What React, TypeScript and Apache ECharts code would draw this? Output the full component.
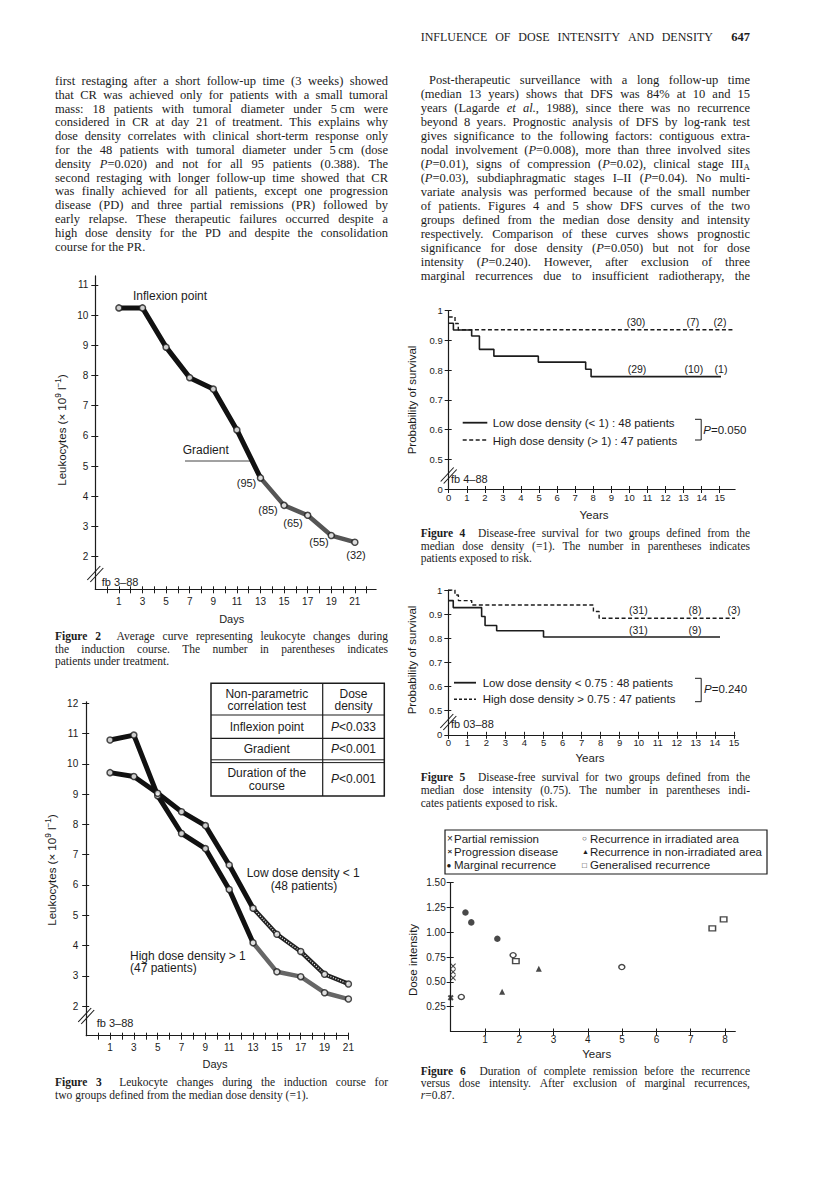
import React, { useEffect, useRef } from "react";
import * as echarts from "echarts";

const INK = "#1c1c1c";
const SANS = '"Liberation Sans", Arial, sans-serif';
const SERIF = '"Liberation Serif", "Times New Roman", serif';

// ---------------- page text ----------------
const runningHead = "INFLUENCE OF DOSE INTENSITY AND DENSITY";
const pageNumber = "647";
const leftColumnLines = [
  "first restaging after a short follow-up time (3 weeks) showed",
  "that CR was achieved only for patients with a small tumoral",
  "mass: 18 patients with tumoral diameter under 5\u2009cm were",
  "considered in CR at day 21 of treatment. This explains why",
  "dose density correlates with clinical short-term response only",
  "for the 48 patients with tumoral diameter under 5\u2009cm (dose",
  "density *P*=0.020) and not for all 95 patients (0.388). The",
  "second restaging with longer follow-up time showed that CR",
  "was finally achieved for all patients, except one progression",
  "disease (PD) and three partial remissions (PR) followed by",
  "early relapse. These therapeutic failures occurred despite a",
  "high dose density for the PD and despite the consolidation",
  "course for the PR.",
];
const rightColumnLines = [
  "Post-therapeutic surveillance with a long follow-up time",
  "(median 13 years) shows that DFS was 84% at 10 and 15",
  "years (Lagarde *et al.*, 1988), since there was no recurrence",
  "beyond 8 years. Prognostic analysis of DFS by log-rank test",
  "gives significance to the following factors: contiguous extra-",
  "nodal involvement (*P*=0.008), more than three involved sites",
  "(*P*=0.01), signs of compression (*P*=0.02), clinical stage III_A_",
  "(*P*=0.03), subdiaphragmatic stages I\u2013II (*P*=0.04). No multi-",
  "variate analysis was performed because of the small number",
  "of patients. Figures 4 and 5 show DFS curves of the two",
  "groups defined from the median dose density and intensity",
  "respectively. Comparison of these curves shows prognostic",
  "significance for dose density (*P*=0.050) but not for dose",
  "intensity (*P*=0.240). However, after exclusion of three",
  "marginal recurrences due to insufficient radiotherapy, the",
];
const fig2Caption = [
  "#Figure# #2#  Average curve representing leukocyte changes during",
  "the induction course. The number in parentheses indicates",
  "patients under treatment.",
];
const fig3Caption = [
  "#Figure# #3#  Leukocyte changes during the induction course for",
  "two groups defined from the median dose density (=1).",
];
const fig4Caption = [
  "#Figure# #4#  Disease-free survival for two groups defined from the",
  "median dose density (=1). The number in parentheses indicates",
  "patients exposed to risk.",
];
const fig5Caption = [
  "#Figure# #5#  Disease-free survival for two groups defined from the",
  "median dose intensity (0.75). The number in parentheses indi-",
  "cates patients exposed to risk.",
];
const fig6Caption = [
  "#Figure# #6#  Duration of complete remission before the recurrence",
  "versus dose intensity. After exclusion of marginal recurrences,",
  "*r*=0.87.",
];

// ---------------- Figure 2 ----------------
const fig2Days = [1, 3, 5, 7, 9, 11, 13, 15, 17, 19, 21];
const fig2Leukocytes = [10.24, 10.24, 8.94, 7.93, 7.55, 6.2, 4.61, 3.7, 3.37, 2.7, 2.48];
const fig2AtRisk = ["(95)", "(85)", "(65)", "(55)", "(32)"];
const fig2XLabels = [1, 3, 5, 7, 9, 11, 13, 15, 17, 19, 21];
const fig2XTicks = [0, 1, 2, 3, 4, 5, 6, 7, 8, 9, 10, 11, 12, 13, 14, 15, 16, 17, 18, 19, 20, 21, 22];
const fig2YTicks = [2, 3, 4, 5, 6, 7, 8, 9, 10, 11];

// ---------------- Figure 3 ----------------
const fig3Days = [1, 3, 5, 7, 9, 11, 13, 15, 17, 19, 21];
const fig3LowDensity = [9.71, 9.58, 9.03, 8.42, 7.96, 6.66, 5.23, 4.37, 3.8, 3.05, 2.73];
const fig3HighDensity = [10.79, 10.95, 8.95, 7.7, 7.2, 5.85, 4.09, 3.13, 2.97, 2.44, 2.23];
const fig3XLabels = [1, 3, 5, 7, 9, 11, 13, 15, 17, 19, 21];
const fig3XTicks = [0, 1, 2, 3, 4, 5, 6, 7, 8, 9, 10, 11, 12, 13, 14, 15, 16, 17, 18, 19, 20, 21];
const fig3YTicks = [2, 3, 4, 5, 6, 7, 8, 9, 10, 11, 12];
const fig3TableRows = [
  ["Inflexion point", "*P*<0.033"],
  ["Gradient", "*P*<0.001"],
  ["Duration of the|course", "*P*<0.001"],
];

// ---------------- Figure 4 (dose density) ----------------
const fig4HighYears = [0, 0.35, 0.53, 15.75];
const fig4HighSurvival = [0.979, 0.957, 0.936, 0.936];
const fig4LowYears = [0, 0.26, 1.27, 1.7, 2.5, 4.96, 7.58, 7.88, 15.07];
const fig4LowSurvival = [0.958, 0.935, 0.915, 0.87, 0.847, 0.827, 0.803, 0.778, 0.778];
const fig4AtRiskHigh = ["(30)", "(7)", "(2)"];
const fig4AtRiskLow = ["(29)", "(10)", "(1)"];

// ---------------- Figure 5 (dose intensity) ----------------
const fig5HighYears = [0, 0.35, 0.53, 1.23, 7.62, 7.92, 15.06];
const fig5HighSurvival = [1.0, 0.979, 0.956, 0.938, 0.911, 0.883, 0.883];
const fig5LowYears = [0, 0.26, 1.75, 1.93, 2.54, 5.0, 14.27];
const fig5LowSurvival = [0.956, 0.927, 0.89, 0.853, 0.831, 0.805, 0.805];
const fig5AtRiskHigh = ["(31)", "(8)", "(3)"];
const fig5AtRiskLow = ["(31)", "(9)"];

const survYTicks = [0.4, 0.5, 0.6, 0.7, 0.8, 0.9, 1.0];
const survXTicks = [0, 1, 2, 3, 4, 5, 6, 7, 8, 9, 10, 11, 12, 13, 14, 15];

// ---------------- Figure 6 ----------------
const partialRemissionX = [0.07, 0.07, 0.07];
const partialRemissionY = [0.66, 0.6, 0.54];
const progressionX = [0.0];
const progressionY = [0.34];
const marginalX = [0.43, 0.6, 1.36];
const marginalY = [1.2, 1.1, 0.935];
const irradiatedX = [0.31, 1.82, 4.99];
const irradiatedY = [0.348, 0.77, 0.65];
const nonIrradiatedX = [1.5, 2.57];
const nonIrradiatedY = [0.4, 0.633];
const generalisedX = [1.9, 7.63, 7.96];
const generalisedY = [0.71, 1.04, 1.13];
const fig6XTicks = [1, 2, 3, 4, 5, 6, 7, 8];
const fig6YTicks = [0.25, 0.5, 0.75, 1.0, 1.25, 1.5];

// ---------------- text helpers ----------------
type Seg = { t: string; it: boolean; bd: boolean; sup: boolean; sub: boolean };
let mctx: CanvasRenderingContext2D | null = null;
function measure(text: string, font: string) {
  if (!mctx) mctx = document.createElement("canvas").getContext("2d");
  mctx!.font = font;
  return mctx!.measureText(text).width;
}
function parseWords(line: string): Seg[][] {
  const words: Seg[][] = [];
  let cur: Seg[] = [];
  let buf = "";
  let it = false, bd = false, sup = false, sub = false;
  const flush = () => {
    if (buf) cur.push({ t: buf, it, bd, sup, sub });
    buf = "";
  };
  for (const ch of line) {
    if (ch === "*") { flush(); it = !it; }
    else if (ch === "#") { flush(); bd = !bd; }
    else if (ch === "^") { flush(); sup = !sup; }
    else if (ch === "_") { flush(); sub = !sub; }
    else if (ch === " ") { flush(); words.push(cur); cur = []; }
    else buf += ch;
  }
  flush();
  words.push(cur);
  return words;
}
function fontOf(s: Seg, size: number, family: string) {
  const sz = s.sup || s.sub ? size * 0.72 : size;
  return `${s.it ? "italic " : ""}${s.bd ? "bold " : ""}${sz}px ${family}`;
}
function lineWidth(line: string, size: number, family: string) {
  const words = parseWords(line);
  const sp = measure(" ", `${size}px ${family}`);
  let w = 0;
  words.forEach((wd, i) => {
    wd.forEach((s) => (w += measure(s.t, fontOf(s, size, family))));
    if (i < words.length - 1) w += sp;
  });
  return w;
}
function textLine(line: string, x0: number, x1: number, y: number, size: number, family: string, justify: boolean, fill = INK): any[] {
  const words = parseWords(line);
  const widths = words.map((w) => w.reduce((a, s) => a + measure(s.t, fontOf(s, size, family)), 0));
  const natural = widths.reduce((a, b) => a + b, 0);
  const sp = measure(" ", `${size}px ${family}`);
  const gaps = words.length - 1;
  const gap = justify && gaps > 0 ? (x1 - x0 - natural) / gaps : sp;
  const out: any[] = [];
  let x = x0;
  words.forEach((w) => {
    w.forEach((s) => {
      const f = fontOf(s, size, family);
      out.push({
        type: "text",
        x,
        y: y + (s.sub ? size * 0.28 : s.sup ? -size * 0.32 : 0),
        silent: true,
        style: { text: s.t, font: f, fill, textAlign: "left", textVerticalAlign: "middle", align: "left", verticalAlign: "middle" },
      });
      x += measure(s.t, f);
    });
    x += gap;
  });
  return out;
}
function textAt(line: string, x: number, y: number, size: number, family: string, align: "left" | "center" | "right" = "left", fill = INK) {
  const w = lineWidth(line, size, family);
  const x0 = align === "left" ? x : align === "center" ? x - w / 2 : x - w;
  return textLine(line, x0, x0 + w, y, size, family, false, fill);
}
function rotatedText(line: string, cx: number, cy: number, size: number, family: string) {
  return [{ type: "group", x: cx, y: cy, rotation: Math.PI / 2, silent: true, children: textAt(line, 0, 0, size, family, "center") }];
}
function seg(x1: number, y1: number, x2: number, y2: number, w = 1, dash?: number[], stroke = INK) {
  return { type: "line", silent: true, shape: { x1, y1, x2, y2 }, style: { stroke, lineWidth: w, lineDash: dash } };
}
function captionBlock(lines: string[], x0: number, x1: number, y0: number, dy: number) {
  const out: any[] = [];
  lines.forEach((l, i) => out.push(...textLine(l, x0, x1, y0 + dy * i, 11.5, SERIF, i < lines.length - 1)));
  return out;
}
function breakMark(x: number, y: number) {
  return [seg(x - 8, y + 7, x + 5, y - 7, 1.1), seg(x - 5, y + 9, x + 8, y - 5, 1.1)];
}

// ---------------- axes ----------------
function axisPair(dim: "x" | "y", gi: number, min: number, max: number, ticks: number[], labels: number[], fmt: (v: number) => string, margin: number, font: number) {
  const position = dim === "x" ? "bottom" : "left";
  const tickStyle = { color: INK, width: 1 };
  return [
    {
      type: "value", gridIndex: gi, position, min, max,
      axisLine: { show: true, onZero: false, lineStyle: { color: INK, width: 1.2 } },
      splitLine: { show: false },
      axisTick: { show: true, length: 4, customValues: ticks, lineStyle: tickStyle },
      axisLabel: { show: true, customValues: labels, formatter: (v: number) => fmt(v), margin, fontSize: font, fontFamily: SANS, color: INK },
    },
    {
      type: "value", gridIndex: gi, position, min, max,
      axisLine: { show: false, onZero: false }, splitLine: { show: false }, axisLabel: { show: false },
      axisTick: { show: true, inside: true, length: 3, customValues: ticks, lineStyle: tickStyle },
    },
  ];
}
const pairs = (xs: number[], ys: number[]) => xs.map((x, i) => [x, ys[i]]);
const intFmt = (v: number) => String(Math.round(v));
const survFmt = (v: number) => (v < 0.45 ? "0" : v > 0.95 ? "1" : v.toFixed(1));

function buildOption() {
  const grids = [
    { left: 95.3, top: 275.9, width: 280.8, height: 313.4 },
    { left: 86.2, top: 701.8, width: 262.2, height: 333.9 },
    { left: 448.7, top: 310.7, width: 286.4, height: 178.3 },
    { left: 448.3, top: 590, width: 286.6, height: 144.8 },
    { left: 450.7, top: 882.7, width: 284.6, height: 148.8 },
  ];
  const xAxis = [
    ...axisPair("x", 0, -1, 22.8, fig2XTicks, fig2XLabels, intFmt, 7, 10),
    ...axisPair("x", 1, -1, 21, fig3XTicks, fig3XLabels, intFmt, 7, 10),
    ...axisPair("x", 2, 0, 15.85, survXTicks, survXTicks, intFmt, 3, 9.5),
    ...axisPair("x", 3, 0, 15.05, survXTicks, survXTicks, intFmt, 3, 9.5),
    ...axisPair("x", 4, 0, 8.3, fig6XTicks, fig6XTicks, intFmt, 3, 10),
  ];
  const yAxis = [
    ...axisPair("y", 0, 0.92, 11.3, fig2YTicks, fig2YTicks, intFmt, 7, 10),
    ...axisPair("y", 1, 1.02, 12.05, fig3YTicks, fig3YTicks, intFmt, 8, 10),
    ...axisPair("y", 2, 0.4, 1.0, survYTicks, survYTicks, survFmt, 6, 9.5),
    ...axisPair("y", 3, 0.4, 1.0, survYTicks, survYTicks, survFmt, 6, 9.5),
    ...axisPair("y", 4, 0, 1.5, fig6YTicks, fig6YTicks, (v) => v.toFixed(2), 5, 10),
  ];
  const ax = (gi: number) => ({ xAxisIndex: gi * 2, yAxisIndex: gi * 2 });
  const marker = { symbol: "circle", symbolSize: 6, itemStyle: { color: "#fff", borderColor: INK, borderWidth: 1.5 } };
  const thick = (color: string, width: number) => ({ color, width, cap: "round", join: "round" });

  const f2 = pairs(fig2Days, fig2Leukocytes);
  const f3l = pairs(fig3Days, fig3LowDensity);
  const f3h = pairs(fig3Days, fig3HighDensity);

  const series: any[] = [
    // Figure 2
    { type: "line", ...ax(0), data: f2.slice(0, 7), symbol: "none", lineStyle: thick("#111", 5), z: 2 },
    { type: "line", ...ax(0), data: f2.slice(6), symbol: "none", lineStyle: thick("#555", 4.5), z: 2 },
    { type: "scatter", ...ax(0), data: f2, ...marker, z: 5 },
    // Figure 3
    { type: "line", ...ax(1), data: f3h.slice(0, 7), symbol: "none", lineStyle: thick("#111", 5), z: 2 },
    { type: "line", ...ax(1), data: f3h.slice(6), symbol: "none", lineStyle: thick("#666", 4.5), z: 2 },
    { type: "line", ...ax(1), data: f3l.slice(0, 7), symbol: "none", lineStyle: thick("#111", 5), z: 2 },
    { type: "line", ...ax(1), data: f3l.slice(6), symbol: "none", lineStyle: thick("#222", 4.5), z: 2 },
    { type: "line", ...ax(1), data: f3l.slice(6), symbol: "none", lineStyle: { color: "#fff", width: 1.3, type: [1, 1.6] }, z: 3 },
    { type: "scatter", ...ax(1), data: f3h, ...marker, z: 5 },
    { type: "scatter", ...ax(1), data: f3l, ...marker, z: 5 },
    // Figure 4
    { type: "line", ...ax(2), step: "end", data: pairs(fig4HighYears, fig4HighSurvival), symbol: "none", lineStyle: { color: INK, width: 1.4, type: [4, 2.5] } },
    { type: "line", ...ax(2), step: "end", data: pairs(fig4LowYears, fig4LowSurvival), symbol: "none", lineStyle: { color: INK, width: 1.6 } },
    // Figure 5
    { type: "line", ...ax(3), step: "end", data: pairs(fig5HighYears, fig5HighSurvival), symbol: "none", lineStyle: { color: INK, width: 1.4, type: [4, 2.5] } },
    { type: "line", ...ax(3), step: "end", data: pairs(fig5LowYears, fig5LowSurvival), symbol: "none", lineStyle: { color: INK, width: 1.6 } },
    // Figure 6
    { type: "scatter", ...ax(4), data: pairs(partialRemissionX, partialRemissionY), symbol: "path://M0,0L10,10M10,0L0,10", symbolSize: 5, itemStyle: { color: "none", borderColor: INK, borderWidth: 1.1 } },
    { type: "scatter", ...ax(4), data: pairs(progressionX, progressionY), symbol: "path://M0,0L10,10M10,0L0,10", symbolSize: 4.5, itemStyle: { color: "none", borderColor: INK, borderWidth: 2 } },
    { type: "scatter", ...ax(4), data: pairs(marginalX, marginalY), symbol: "circle", symbolSize: 6.5, itemStyle: { color: INK } },
    { type: "scatter", ...ax(4), data: pairs(irradiatedX, irradiatedY), symbol: "circle", symbolSize: [6, 5], itemStyle: { color: "#fff", borderColor: INK, borderWidth: 1.4 } },
    { type: "scatter", ...ax(4), data: pairs(nonIrradiatedX, nonIrradiatedY), symbol: "triangle", symbolSize: 6, itemStyle: { color: INK } },
    { type: "scatter", ...ax(4), data: pairs(generalisedX, generalisedY), symbol: "rect", symbolSize: [6.5, 5], itemStyle: { color: "#fff", borderColor: INK, borderWidth: 1.3 } },
  ];

  const g: any[] = [];
  const add = (a: any[]) => g.push(...a);
  // running head + body text
  add(textLine(runningHead, 420.7, 713, 36.7, 12, SERIF, true));
  add(textAt("#" + pageNumber + "#", 750, 36.7, 12.5, SERIF, "right"));
  leftColumnLines.forEach((l, i) => add(textLine(l, 55, 388, 81 + 13.8 * i, 12.5, SERIF, i < leftColumnLines.length - 1)));
  rightColumnLines.forEach((l, i) => add(textLine(l, i === 0 ? 429 : 420.7, 750, 80 + 13.97 * i, 12.5, SERIF, true)));

  // Figure 2 texts
  add(rotatedText("Leukocytes (\u00d7 10^9^ l^\u22121^)", 62, 430, 11.5, SANS));
  add(textAt("Inflexion point", 133, 296, 12, SANS));
  add(textAt("Gradient", 182.7, 450, 12, SANS));
  g.push(seg(185, 461, 251.7, 461, 1, undefined, "#444"));
  const f2LabelPos = [[246.5, 482.7], [268, 510], [293, 523], [319, 542], [356, 555]];
  fig2AtRisk.forEach((t, i) => add(textAt(t, f2LabelPos[i][0], f2LabelPos[i][1], 11, SANS, "center")));
  add(textAt("Days", 231.7, 619.3, 11, SANS, "center"));
  add(textAt("fb 3\u201388", 101.7, 582.3, 11, SANS));
  g.push(...breakMark(95.3, 573));
  add(captionBlock(fig2Caption, 55, 388, 636, 12.5));

  // Figure 3 texts
  add(rotatedText("Leukocytes (\u00d7 10^9^ l^\u22121^)", 52, 870, 11.5, SANS));
  g.push({ type: "rect", silent: true, shape: { x: 211, y: 683.3, width: 173.3, height: 112.7 }, style: { fill: "none", stroke: INK, lineWidth: 1.5 } });
  g.push(seg(322.7, 683.3, 322.7, 796, 1.2));
  g.push(seg(211, 715, 384.3, 715, 1.2));
  g.push(seg(211, 738.3, 384.3, 738.3, 1.2));
  g.push(seg(211, 759.8, 384.3, 759.8, 1));
  g.push(seg(211, 762.6, 384.3, 762.6, 1));
  add(textAt("Non-parametric", 266.8, 694, 12, SANS, "center"));
  add(textAt("correlation test", 266.8, 706, 12, SANS, "center"));
  add(textAt("Dose", 353.5, 694, 12, SANS, "center"));
  add(textAt("density", 353.5, 706, 12, SANS, "center"));
  const rowY = [727.3, 749.3, 779.3];
  fig3TableRows.forEach((r, i) => {
    const parts = r[0].split("|");
    if (parts.length === 1) add(textAt(parts[0], 266.8, rowY[i], 12, SANS, "center"));
    else {
      add(textAt(parts[0], 266.8, 773.3, 12, SANS, "center"));
      add(textAt(parts[1], 266.8, 785.7, 12, SANS, "center"));
    }
    add(textAt(r[1], 353.5, rowY[i], 12, SANS, "center"));
  });
  add(textAt("Low dose density < 1", 246.7, 873.3, 12, SANS));
  add(textAt("(48 patients)", 304, 886, 12, SANS, "center"));
  add(textAt("High dose density > 1", 130, 956, 12, SANS));
  add(textAt("(47 patients)", 130, 968.3, 12, SANS));
  add(textAt("Days", 215, 1064.3, 11, SANS, "center"));
  add(textAt("fb 3\u201388", 96.7, 1023.3, 11, SANS));
  g.push(...breakMark(86.2, 1015));
  add(captionBlock(fig3Caption, 55, 388, 1081.7, 13.3));

  // Figure 4 texts
  add(rotatedText("Probability of survival", 412, 400, 11.5, SANS));
  const f4x = [636, 692.8, 720];
  fig4AtRiskHigh.forEach((t, i) => add(textAt(t, f4x[i], 321.7, 10.5, SANS, "center")));
  fig4AtRiskLow.forEach((t, i) => add(textAt(t, f4x[i] + 1, 369.3, 10.5, SANS, "center")));
  g.push(seg(462.7, 422.7, 487.3, 422.7, 1.8));
  g.push(seg(462.7, 440, 487.3, 440, 1.4, [4, 2.5]));
  add(textAt("Low dose density (< 1) : 48 patients", 492.7, 423, 11.5, SANS));
  add(textAt("High dose density (> 1) : 47 patients", 492.7, 440.7, 11.5, SANS));
  g.push(seg(695, 419.3, 701.2, 419.3, 1), seg(701.2, 419.3, 701.2, 440, 1), seg(695, 440, 701.2, 440, 1));
  add(textAt("*P*=0.050", 703.3, 430, 11.5, SANS));
  add(textAt("fb 4\u201388", 451, 479.3, 11, SANS));
  g.push(...breakMark(448.7, 474.5));
  add(textAt("Years", 594, 515, 11.5, SANS, "center"));
  add(captionBlock(fig4Caption, 420.7, 750, 533.3, 12.5));

  // Figure 5 texts
  add(rotatedText("Probability of survival", 412, 660, 11.5, SANS));
  const f5x = [638.3, 695, 734];
  fig5AtRiskHigh.forEach((t, i) => add(textAt(t, f5x[i], 610, 10.5, SANS, "center")));
  fig5AtRiskLow.forEach((t, i) => add(textAt(t, f5x[i], 630, 10.5, SANS, "center")));
  g.push(seg(454, 682.7, 476, 682.7, 1.8));
  g.push(seg(454, 699.3, 476, 699.3, 1.4, [3, 2]));
  add(textAt("Low dose density < 0.75 : 48 patients", 482.7, 682.7, 11.5, SANS));
  add(textAt("High dose density > 0.75 : 47 patients", 482.7, 699.3, 11.5, SANS));
  g.push(seg(695, 678.3, 701.2, 678.3, 1), seg(701.2, 678.3, 701.2, 701.7, 1), seg(695, 701.7, 701.2, 701.7, 1));
  add(textAt("*P*=0.240", 704, 689.3, 11.5, SANS));
  add(textAt("fb 03\u201388", 451, 724.3, 11, SANS));
  g.push(...breakMark(448.3, 721));
  add(textAt("Years", 590, 757.7, 11.5, SANS, "center"));
  add(captionBlock(fig5Caption, 420.7, 750, 776.7, 13));

  // Figure 6 texts
  g.push({ type: "rect", silent: true, shape: { x: 445, y: 830, width: 322, height: 44 }, style: { fill: "none", stroke: INK, lineWidth: 1.2 } });
  const legRows = [838.5, 851.7, 865];
  add(textAt("\u00d7", 447, legRows[0], 10, SANS));
  add(textAt("Partial remission", 454, legRows[0], 11.5, SANS));
  add(textAt("#\u00d7#", 447.5, legRows[1], 8, SANS));
  add(textAt("Progression disease", 454, legRows[1], 11.5, SANS));
  add(textAt("\u25cf", 446.5, legRows[2], 8, SANS));
  add(textAt("Marginal recurrence", 454, legRows[2], 11.5, SANS));
  add(textAt("\u25cb", 582, legRows[0], 8, SANS));
  add(textAt("Recurrence in irradiated area", 590, legRows[0], 11.5, SANS));
  add(textAt("\u25b2", 582, legRows[1], 7, SANS));
  add(textAt("Recurrence in non-irradiated area", 590, legRows[1], 11.5, SANS));
  add(textAt("\u25a1", 582, legRows[2], 8, SANS));
  add(textAt("Generalised recurrence", 590, legRows[2], 11.5, SANS));
  add(rotatedText("Dose intensity", 413.3, 960, 11.5, SANS));
  add(textAt("Years", 596.7, 1054.3, 11.5, SANS, "center"));
  add(captionBlock(fig6Caption, 420.7, 750, 1071, 12));

  return {
    animation: false,
    backgroundColor: "#fff",
    grid: grids.map((gr) => ({ ...gr, containLabel: false })),
    xAxis,
    yAxis,
    series,
    graphic: { elements: g },
  };
}

export default function App() {
  const ref = useRef<HTMLDivElement>(null);
  useEffect(() => {
    const chart = echarts.init(ref.current!, undefined, { renderer: "svg", width: 816, height: 1182 });
    chart.setOption(buildOption() as any);
    return () => chart.dispose();
  }, []);
  return <div ref={ref} style={{ position: "absolute", left: 0, top: 0, width: 816, height: 1182, background: "#fff" }} />;
}
